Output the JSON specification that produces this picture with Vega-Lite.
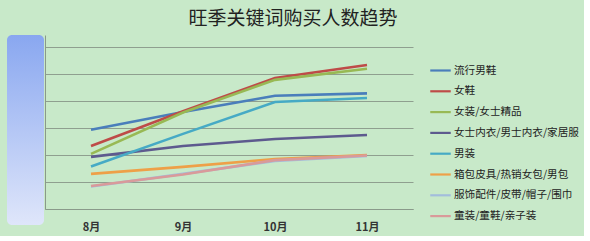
{
  "$schema": "https://vega.github.io/schema/vega-lite/v6.json",
  "background": "#c8e9c9",
  "padding": {"left": 7, "top": 10, "right": 5, "bottom": 4},
  "title": {"text": "旺季关键词购买人数趋势", "fontSize": 19, "fontWeight": "normal", "font": "Noto Sans CJK SC", "color": "#222222", "offset": 6, "anchor": "middle"},
  "datasets": {
    "deco": [{"v": 1}],
    "trend": [
      {"series": "流行男鞋", "month": "8月", "value": 293},
      {"series": "流行男鞋", "month": "9月", "value": 359},
      {"series": "流行男鞋", "month": "10月", "value": 419},
      {"series": "流行男鞋", "month": "11月", "value": 428},
      {"series": "女鞋", "month": "8月", "value": 233},
      {"series": "女鞋", "month": "9月", "value": 362},
      {"series": "女鞋", "month": "10月", "value": 485},
      {"series": "女鞋", "month": "11月", "value": 533},
      {"series": "女装/女士精品", "month": "8月", "value": 204},
      {"series": "女装/女士精品", "month": "9月", "value": 357},
      {"series": "女装/女士精品", "month": "10月", "value": 478},
      {"series": "女装/女士精品", "month": "11月", "value": 519},
      {"series": "女士内衣/男士内衣/家居服", "month": "8月", "value": 193},
      {"series": "女士内衣/男士内衣/家居服", "month": "9月", "value": 233},
      {"series": "女士内衣/男士内衣/家居服", "month": "10月", "value": 259},
      {"series": "女士内衣/男士内衣/家居服", "month": "11月", "value": 274},
      {"series": "男装", "month": "8月", "value": 157},
      {"series": "男装", "month": "9月", "value": 278},
      {"series": "男装", "month": "10月", "value": 396},
      {"series": "男装", "month": "11月", "value": 411},
      {"series": "箱包皮具/热销女包/男包", "month": "8月", "value": 130},
      {"series": "箱包皮具/热销女包/男包", "month": "9月", "value": 156},
      {"series": "箱包皮具/热销女包/男包", "month": "10月", "value": 185},
      {"series": "箱包皮具/热销女包/男包", "month": "11月", "value": 200},
      {"series": "服饰配件/皮带/帽子/围巾", "month": "8月", "value": 83},
      {"series": "服饰配件/皮带/帽子/围巾", "month": "9月", "value": 130},
      {"series": "服饰配件/皮带/帽子/围巾", "month": "10月", "value": 178},
      {"series": "服饰配件/皮带/帽子/围巾", "month": "11月", "value": 196},
      {"series": "童装/童鞋/亲子装", "month": "8月", "value": 85},
      {"series": "童装/童鞋/亲子装", "month": "9月", "value": 128},
      {"series": "童装/童鞋/亲子装", "month": "10月", "value": 181},
      {"series": "童装/童鞋/亲子装", "month": "11月", "value": 198}
    ]
  },
  "spacing": 1,
  "config": {
    "view": {"stroke": null},
    "font": "Noto Sans CJK SC"
  },
  "hconcat": [
    {
      "width": 37,
      "height": 190,
      "data": {"name": "deco"},
      "mark": {
        "type": "bar",
        "width": 37,
        "cornerRadius": 5,
        "color": {"gradient": "linear", "x1": 0, "y1": 0, "x2": 0, "y2": 1, "stops": [{"offset": 0, "color": "#89a7f0"}, {"offset": 1, "color": "#dfe6fa"}]}
      },
      "encoding": {
        "y": {"field": "v", "type": "quantitative", "scale": {"domain": [0, 1], "nice": false}, "axis": null}
      }
    },
    {
      "width": 368,
      "height": 174,
      "data": {"name": "trend"},
      "mark": {"type": "line", "strokeWidth": 2.6},
      "encoding": {
        "x": {
          "field": "month", "type": "ordinal", "sort": ["8月", "9月", "10月", "11月"],
          "scale": {"type": "point", "padding": 0.5},
          "axis": {"title": null, "labelAngle": 0, "labelFontSize": 11, "labelFontWeight": "bold", "labelColor": "#333333", "ticks": false, "labelPadding": 12, "domainColor": "#8a9a8a", "domainWidth": 1.2, "grid": false}
        },
        "y": {
          "field": "value", "type": "quantitative",
          "scale": {"domain": [0, 644], "nice": false, "zero": true},
          "axis": {"title": null, "labels": false, "ticks": false, "domain": true, "domainColor": "#8a9a8a", "grid": true, "gridColor": "#8f9f8f", "gridWidth": 1, "values": [0, 100, 200, 300, 400, 500, 600]}
        },
        "color": {
          "field": "series", "type": "nominal",
          "scale": {
            "domain": ["流行男鞋", "女鞋", "女装/女士精品", "女士内衣/男士内衣/家居服", "男装", "箱包皮具/热销女包/男包", "服饰配件/皮带/帽子/围巾", "童装/童鞋/亲子装"],
            "range": ["#4a7ebb", "#be4b48", "#98b954", "#5d5a8e", "#46aac5", "#eea048", "#a3bddc", "#d99a9a"]
          },
          "legend": {
            "title": null, "orient": "none", "legendX": 422, "legendY": 24,
            "symbolType": "stroke", "symbolSize": 420, "symbolStrokeWidth": 2.2,
            "labelFontSize": 10.6, "labelColor": "#222222", "labelOffset": 2, "rowPadding": 2.8, "labelLimit": 300
          }
        }
      }
    }
  ]
}
